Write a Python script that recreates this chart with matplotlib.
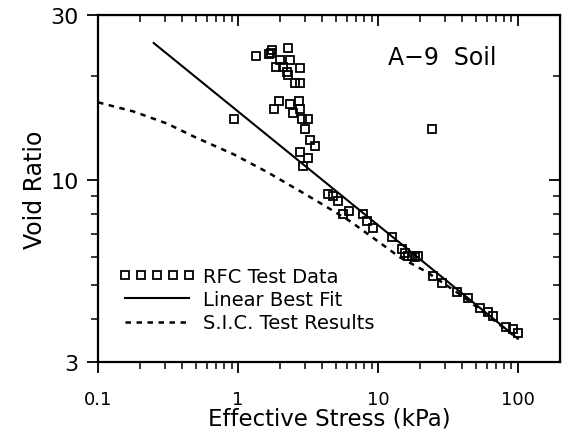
import matplotlib.pyplot as plt
from matplotlib.ticker import FixedLocator, NullFormatter

# RFC test data (effective stress kPa, void ratio)
rfc_x = [1.34, 1.67, 1.72, 1.76, 2.29, 2.0, 2.35, 1.87, 2.09, 2.77, 2.23, 2.29, 2.55, 2.77,
         1.97, 1.82, 2.35, 2.74, 2.48, 2.77, 2.85, 3.18, 3.01, 3.27, 3.55, 2.77, 3.18, 2.90,
         0.93, 24.2,
         4.42, 4.80, 5.20, 5.65, 6.24, 7.78, 8.30, 9.16, 12.7, 14.8, 15.6, 16.5, 17.4, 18.4,
         19.4, 24.8, 28.5, 36.5, 44.2, 53.5, 61.4, 66.6, 82.0, 92.5, 100.5]
rfc_y = [22.9, 23.1, 23.3, 23.7, 24.1, 22.2, 22.3, 21.2, 21.2, 21.1, 20.6, 20.1, 19.1, 19.1,
         17.0, 16.1, 16.6, 17.0, 15.6, 16.1, 15.0, 15.0, 14.1, 13.1, 12.6, 12.1, 11.6, 11.0,
         15.0, 14.1,
         9.15, 9.0, 8.72, 8.02, 8.16, 7.98, 7.64, 7.31, 6.88, 6.34, 6.2, 6.07, 6.07, 6.0,
         6.07, 5.31, 5.08, 4.78, 4.58, 4.28, 4.17, 4.08, 3.78, 3.74, 3.63]

# linear best fit (straight on log-log) end points
fit_x = [0.25, 100]
fit_y = [24.9, 3.5]

# S.I.C. test results curve
sic_x = [0.1, 0.18, 0.31, 0.5, 0.93, 1.6, 2.8, 3.85, 6.3, 10.3, 14.4, 22.3, 40, 100]
sic_y = [16.8, 15.8, 14.6, 13.3, 11.9, 10.6, 9.3, 8.62, 7.64, 6.62, 6.0, 5.45, 4.65, 3.5]

x_ticks = [0.1, 1, 10, 100]
x_labels = ['0.1', '1', '10', '100']
x_minor = [m * d for d in (0.1, 1, 10, 100) for m in range(2, 10) if m * d < 200]
y_ticks = [3, 10, 30]
y_labels = ['3', '10', '30']
y_minor = [4, 5, 6, 7, 8, 9, 20]

fig = plt.figure(figsize=(5.65, 4.31), dpi=100)
ax = fig.add_axes([0.1735, 0.158, 0.8177, 0.805])

ax.plot(rfc_x, rfc_y, 's', ms=5.5, mfc='none', mec='black', mew=1.3,
        label='RFC Test Data')
ax.plot(fit_x, fit_y, '-', color='black', lw=1.5, label='Linear Best Fit')
ax.plot(sic_x, sic_y, color='black', lw=1.8, dashes=(2.2, 2.2),
        label='S.I.C. Test Results')

ax.set_xscale('log')
ax.set_yscale('log')
ax.set_xlim(0.1, 200)
ax.set_ylim(3, 30)

ax.xaxis.set_major_locator(FixedLocator(x_ticks))
ax.set_xticklabels(x_labels)
ax.xaxis.set_minor_locator(FixedLocator(x_minor))
ax.xaxis.set_minor_formatter(NullFormatter())
ax.yaxis.set_major_locator(FixedLocator(y_ticks))
ax.set_yticklabels(y_labels)
ax.yaxis.set_minor_locator(FixedLocator(y_minor))
ax.yaxis.set_minor_formatter(NullFormatter())

ax.tick_params(axis='x', which='major', direction='out', length=8, width=1.3,
               labelsize=13, pad=12)
ax.tick_params(axis='x', which='minor', direction='out', length=5, width=1.1)
ax.tick_params(axis='y', which='major', direction='out', length=8, width=1.3,
               labelsize=16, pad=6)
ax.tick_params(axis='y', which='minor', direction='out', length=5, width=1.1)

# top and right ticks point inward
top = ax.secondary_xaxis('top')
top.xaxis.set_major_locator(FixedLocator(x_ticks))
top.xaxis.set_minor_locator(FixedLocator(x_minor))
top.xaxis.set_minor_formatter(NullFormatter())
top.tick_params(which='major', direction='in', length=8, width=1.3, labeltop=False)
top.tick_params(which='minor', direction='in', length=5, width=1.1)
right = ax.secondary_yaxis('right')
right.yaxis.set_major_locator(FixedLocator(y_ticks))
right.yaxis.set_minor_locator(FixedLocator(y_minor))
right.yaxis.set_minor_formatter(NullFormatter())
right.tick_params(which='major', direction='in', length=8, width=1.3, labelright=False)
right.tick_params(which='minor', direction='in', length=5, width=1.1)

for s in ax.spines.values():
    s.set_linewidth(1.6)

ax.set_xlabel('Effective Stress (kPa)', fontsize=16.5, labelpad=-1)
ax.set_ylabel('Void Ratio', fontsize=17, labelpad=2)

ax.text(0.745, 0.88, 'A\u22129  Soil', transform=ax.transAxes, fontsize=17,
        ha='center', va='center')

ax.legend(loc='lower left', bbox_to_anchor=(0.045, 0.085), frameon=False,
          fontsize=14, numpoints=5, handlelength=3.9, handletextpad=0.45,
          labelspacing=0.22, borderpad=0, borderaxespad=0)

plt.savefig('out.png', dpi=100)
